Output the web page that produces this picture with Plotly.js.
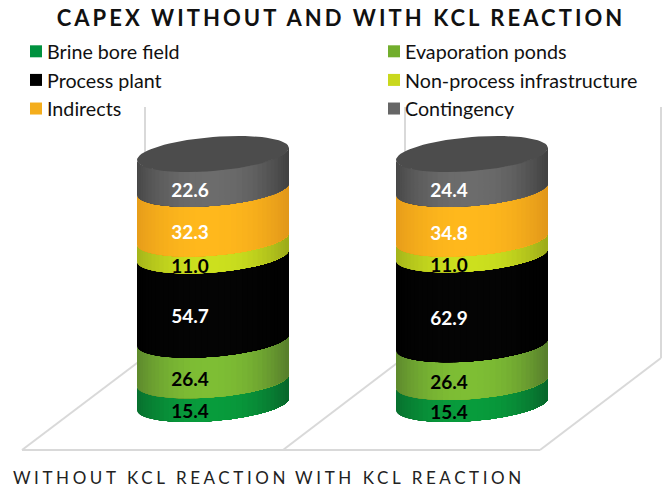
<!DOCTYPE html>
<html><head><meta charset="utf-8">
<script src="https://cdn.plot.ly/plotly-3.0.1.min.js"></script>
<style>
html,body{margin:0;padding:0;background:#fff}
.gtitle{letter-spacing:3.05px}
.xtick text{letter-spacing:3.6px}
g.legendsymbols{transform:translateX(9px)}
</style></head><body><div id="chart" style="width:662px;height:487px"></div>
<script>
const categories=["WITHOUT KCL REACTION","WITH KCL REACTION"];
const brine=[15.4,15.4];
const evaporation=[26.4,26.4];
const processPlant=[54.7,62.9];
const nonProcess=[11.0,11.0];
const indirects=[32.3,34.8];
const contingency=[22.6,24.4];
const seriesNames=["Brine bore field","Evaporation ponds","Process plant","Non-process infrastructure","Indirects","Contingency"];
const seriesValues=[brine,evaporation,processPlant,nonProcess,indirects,contingency];
const legendColors=["#00923f","#72ae2d","#000000","#c9d81d","#f4ad1c","#666666"];
const legendGroups=["legend","legend2","legend","legend2","legend","legend2"];
const edgeColors=[[8,104,44],[88,128,44],[0,0,0],[158,172,26],[226,152,26],[66,66,66]];
const midColors=[[8,156,60],[126,190,52],[4,4,4],[204,224,30],[255,184,28],[108,108,108]];
const labelColors=["#000000","#000000","#ffffff","#000000","#ffffff","#ffffff"];

const W=662,H=487,plotBottom=466;
const unitPx=259,x0Px=213,pxPerPct=2.5,zeroPx=404;
const halfW=76/unitPx,tilt=6/pxPerPct,depth=17/pxPerPct,labelDy=21/pxPerPct,labelDx=-23/unitPx,tickDx=-62/unitPx;
const nStrips=40;
const idx=categories.map((_,i)=>i);
const totals=idx.map(i=>seriesValues.reduce((s,v)=>s+v[i],0));
function front(level,u){return level+tilt*u-depth*Math.sqrt(Math.max(0,1-u*u));}
function pct(i,upto){let c=0;for(let k=0;k<upto;k++)c+=seriesValues[k][i];return 100*c/totals[i];}

const traces=[];
seriesNames.forEach((n,s)=>traces.push({type:"bar",name:n,x:idx,y:seriesValues[s],width:0.35,
  marker:{color:legendColors[s]},legend:legendGroups[s],hoverinfo:"name+y"}));

function shade(s,u){
  const f=Math.max(0,1-Math.pow(Math.abs(u+0.05)/1.02,2.2));
  const c=edgeColors[s].map((e,k)=>Math.round(e+(midColors[s][k]-e)*f));
  return `rgb(${c[0]},${c[1]},${c[2]})`;
}
const us=[];for(let k=0;k<=nStrips;k++)us.push(-Math.cos(Math.PI*k/nStrips));
seriesNames.forEach((n,s)=>{
  for(let k=0;k<nStrips;k++){
    const xs=[],ys=[];
    const run=us.slice(k);
    idx.forEach(i=>{
      const lo=pct(i,s),hi=pct(i,s+1);
      run.forEach(u=>{xs.push(i+halfW*u);ys.push(front(lo,u));});
      run.slice().reverse().forEach(u=>{xs.push(i+halfW*u);ys.push(front(hi,u));});
      xs.push(i+halfW*us[k],null);ys.push(front(lo,us[k]),null);
    });
    const col=shade(s,(us[k]+us[k+1])/2);
    traces.push({type:"scatter",mode:"lines",x:xs,y:ys,fill:"toself",fillcolor:col,
      line:{color:col,width:0},showlegend:false,hoverinfo:"skip"});
  }
});
// top cap
{
  const xs=[],ys=[];
  idx.forEach(i=>{
    for(let k=0;k<=72;k++){const t=2*Math.PI*k/72,u=Math.cos(t),sg=Math.sin(t);
      xs.push(i+halfW*u);ys.push(100+tilt*u+depth*sg);}
    xs.push(null);ys.push(null);
  });
  traces.push({type:"scatter",mode:"lines",x:xs,y:ys,fill:"toself",fillcolor:"#4c4c4c",
    line:{color:"#4c4c4c",width:0},showlegend:false,hoverinfo:"skip"});
}
// value labels
seriesNames.forEach((n,s)=>{
  traces.push({type:"scatter",mode:"text",
    x:idx.map(i=>i+labelDx),
    y:idx.map(i=>(pct(i,s)+pct(i,s+1))/2-labelDy),
    text:seriesValues[s].map(v=>v.toFixed(1)),
    textposition:"middle center",
    textfont:{family:"Lato, sans-serif",size:19,color:labelColors[s],weight:700},
    showlegend:false,hoverinfo:"skip"});
});

const px=x=>x/W, py=y=>(plotBottom-y)/plotBottom;
const wire=(x0,y0,x1,y1)=>({type:"line",xref:"paper",yref:"paper",x0:px(x0),y0:py(y0),x1:px(x1),y1:py(y1),
  line:{color:"#d9d9d9",width:2},layer:"below"});
const shapes=[
  wire(22,450,540,450),wire(22,450,145,357),wire(283,450,405,357),wire(540,450,661,358),
  wire(145,107,145,357),wire(405,107,405,357),wire(661,107,661,358)
];
const legendBase={orientation:"v",xanchor:"left",y:py(32),yanchor:"top",traceorder:"normal",
  bgcolor:"rgba(0,0,0,0)",font:{family:"Lato, sans-serif",size:19.7,color:"#111"}};
const layout={
  width:W,height:H,margin:{l:0,r:0,t:0,b:H-plotBottom,pad:0},
  paper_bgcolor:"#fff",plot_bgcolor:"rgba(0,0,0,0)",
  barmode:"stack",barnorm:"percent",
  title:{text:"<b>CAPEX WITHOUT AND WITH KCL REACTION</b>",x:341/W,xanchor:"center",y:1-18/H,yanchor:"middle",
    font:{family:"Lato, sans-serif",size:22,color:"#111"}},
  xaxis:{range:[-x0Px/unitPx,(W-x0Px)/unitPx],tickmode:"array",tickvals:idx.map(i=>i+tickDx),ticktext:categories,
    tickangle:0,showgrid:false,zeroline:false,showline:false,ticks:"",tickfont:{family:"Lato, sans-serif",size:17,color:"#222"}},
  yaxis:{range:[(zeroPx-plotBottom)/pxPerPct,zeroPx/pxPerPct],visible:false,showgrid:false,zeroline:false},
  legend:Object.assign({},legendBase,{x:px(7)}),
  legend2:Object.assign({},legendBase,{x:px(365)}),
  shapes:shapes,showlegend:true
};
Plotly.newPlot("chart",traces,layout,{displayModeBar:false,staticPlot:true});
</script></body></html>
